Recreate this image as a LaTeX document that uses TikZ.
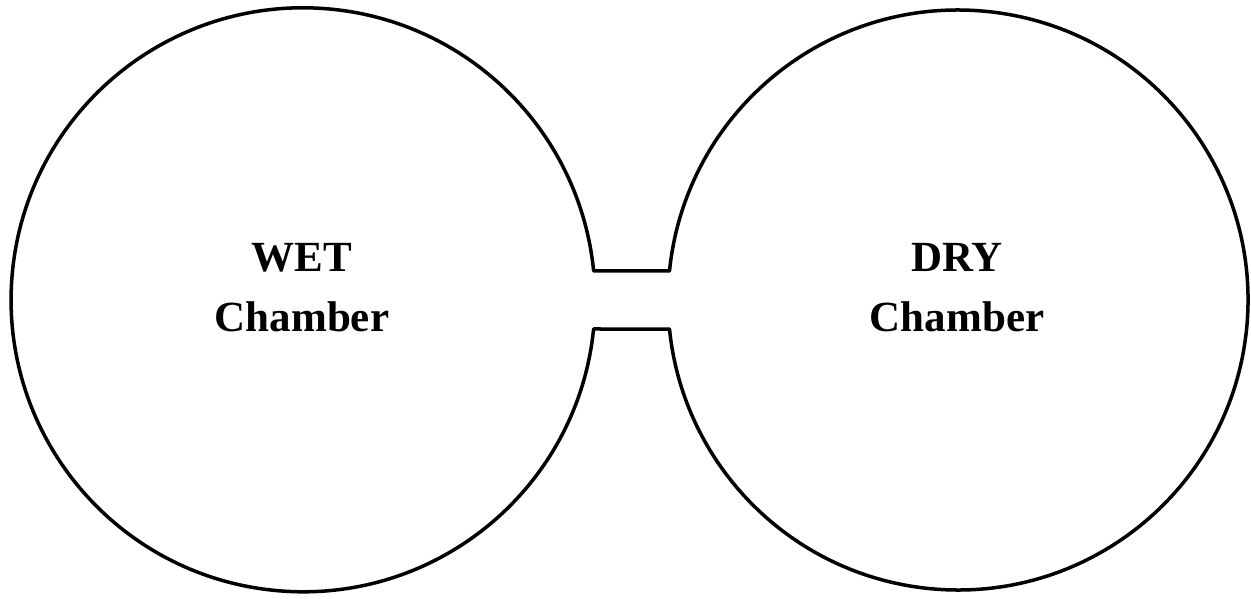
\documentclass[tikz,border=0pt]{standalone}
\usepackage{fontspec}
\setmainfont{Liberation Serif}
\begin{document}
\begin{tikzpicture}[x=1pt,y=1pt,
  outline/.style={draw=black,line width=3.5pt,line join=round},
  label/.style={font=\fontsize{43}{60}\selectfont\bfseries,align=center,inner sep=0pt}]
\useasboundingbox (0,0) rectangle (1251,598);
% left circle center (303,298) r 292 ; right circle center (958,298) r 290
\coordinate (LT) at (593.6,327);
\coordinate (RT) at (669.5,327);
\coordinate (RB) at (669.5,269);
\coordinate (LB) at (593.6,269);
\draw[outline] (LT) -- (RT)
  arc[start angle=174.26,end angle=-174.26,radius=290]
  -- (LB)
  arc[start angle=-5.74,end angle=-354.26,radius=292] -- cycle;
\node[label] (wet) at (302,310) {WET\\Chamber};
\node[label] (dry) at (957,310) {DRY\\Chamber};
\end{tikzpicture}
\end{document}
